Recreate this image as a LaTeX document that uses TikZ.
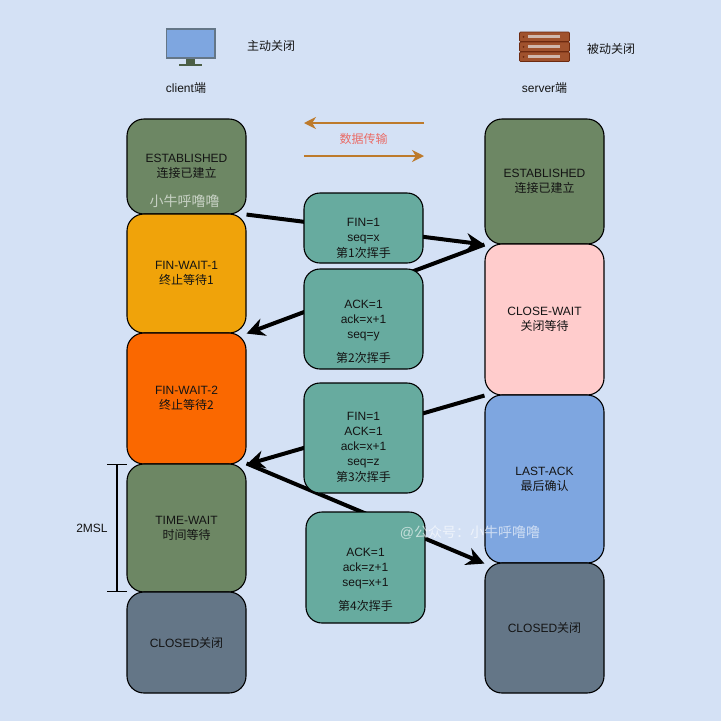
\documentclass[tikz,border=0pt]{standalone}
\usepackage{fontspec}
\setmainfont{Liberation Sans}
\newfontfamily\cjk{Noto Sans CJK SC}
\usetikzlibrary{arrows.meta,calc}
\newcommand{\zh}[1]{{\cjk #1}}
\newcommand{\topgap}[1]{\rule{0pt}{#1}}
\definecolor{bgblue}{HTML}{D4E1F5}
\definecolor{sagegreen}{HTML}{6D8764}
\definecolor{amberfill}{HTML}{F0A30A}
\definecolor{orangefill}{HTML}{FA6800}
\definecolor{slatefill}{HTML}{647687}
\definecolor{bluefill}{HTML}{7EA6E0}
\definecolor{pinkfill}{HTML}{FFCCCC}
\definecolor{tealfill}{HTML}{67AB9F}
\definecolor{dataline}{HTML}{BD7A2B}
\definecolor{datatext}{HTML}{EA6B66}
\definecolor{rackfill}{HTML}{A0522D}
\definecolor{rackline}{HTML}{6D2A10}
\tikzset{
  statebox/.style={draw=black,line width=1.1pt,rounded corners=17pt,minimum width=119pt,inner sep=0pt,align=center,text=black!92},
  shakebox/.style={draw=black,line width=1.1pt,fill=tealfill,rounded corners=16pt,minimum width=119pt,inner sep=0pt,align=center,text=black!92},
  bigarrow/.style={line width=4pt,-{Stealth[length=18pt,width=18pt]}},
  dataarrow/.style={dataline,line width=1.8pt,-{Stealth[length=12pt,width=12pt]}},
  plainlabel/.style={text=black!92,align=center,inner sep=0pt},
  watermark/.style={text=white,opacity=0.62,inner sep=0pt}
}
\begin{document}
\begin{tikzpicture}[x=1pt,y=-1pt, every node/.style={font=\fontsize{12pt}{15pt}\selectfont}]
\useasboundingbox (0,0) rectangle (721,721);
\fill[bgblue] (0,0) rectangle (721,721);
\fill[bluefill,draw=slatefill,line width=1.2pt] (166.5,29) rectangle (215,58);
\fill[sagegreen!70!black] (186,58.5) rectangle (195,64);
\fill[sagegreen!70!black] (179,64) rectangle (202,66);
\foreach \j in {32,42,52}{%
  \fill[rackfill,draw=rackline,line width=0.7pt,rounded corners=1pt] (519.5,\j) rectangle (569.5,\j+9.5);
  \fill[rackfill!35!white!85!gray] (528,\j+3.3) rectangle (560,\j+6.3);
  \fill[rackline] (523.5,\j+4.8) circle (1pt);}
\node[plainlabel] (mainclose) at (271,46) {\zh{主动关闭}};
\node[plainlabel] (clientlabel) at (186,88) {client\zh{端}};
\node[plainlabel] (serverlabel) at (544.5,88) {server\zh{端}};
\node[plainlabel] (passclose) at (611,49) {\zh{被动关闭}};
\node[statebox,fill=sagegreen,minimum height=95pt] (cestab) at (186.5,166.5) {ESTABLISHED\\\zh{连接已建立}};
\node[statebox,fill=amberfill,minimum height=119pt] (cwaita) at (186.5,273.5) {FIN-WAIT-1\\\zh{终止等待1}};
\node[statebox,fill=orangefill,minimum height=131pt] (cwaitb) at (186.5,398.5) {FIN-WAIT-2\\\zh{终止等待2}};
\node[statebox,fill=sagegreen,minimum height=128pt] (ctime) at (186.5,528) {TIME-WAIT\\\zh{时间等待}};
\node[statebox,fill=slatefill,minimum height=101pt] (cclosed) at (186.5,642.5) {CLOSED\zh{关闭}};
\node[statebox,fill=sagegreen,minimum height=125pt] (sestab) at (544.5,181.5) {ESTABLISHED\\\zh{连接已建立}};
\node[statebox,fill=pinkfill,minimum height=151pt] (swait) at (544.5,319.5) {CLOSE-WAIT\\\zh{关闭等待}};
\node[statebox,fill=bluefill,minimum height=168pt] (slast) at (544.5,479) {LAST-ACK\\\zh{最后确认}};
\node[statebox,fill=slatefill,minimum height=130pt] (sclosed) at (544.5,628) {CLOSED\zh{关闭}};
\coordinate (dataR) at (424,123);
\coordinate (dataL) at (304,123);
\coordinate (dataS) at (304,156);
\coordinate (dataE) at (424,156);
\draw[dataarrow] (dataR) -- (dataL);
\draw[dataarrow] (dataS) -- (dataE);
\node[text=datatext,inner sep=0pt] (datalabel) at (363.5,139) {\zh{数据传输}};
\coordinate (mslT) at (117,464);
\coordinate (mslB) at (117,592);
\draw[black,line width=1.1pt,{Bar[width=20pt]}-{Bar[width=20pt]}] (mslT) -- (mslB);
\node[plainlabel] (msl) at (92,528) {2MSL};
\draw[bigarrow] (cestab.south east) -- (sestab.south west);
\draw[bigarrow] (sestab.south west) -- (cwaita.south east);
\draw[bigarrow] (swait.south west) -- (cwaitb.south east);
\draw[bigarrow] (ctime.north east) -- (slast.south west);
\node[shakebox,minimum height=70pt] (finone) at (363.5,228) {\topgap{29pt}FIN=1\\seq=x\\[1pt]\zh{第1次挥手}};
\node[shakebox,minimum height=100pt] (ackone) at (363.5,319) {\topgap{33pt}ACK=1\\ack=x+1\\seq=y\\[9pt]\zh{第2次挥手}};
\node[shakebox,minimum height=110pt] (finack) at (363.5,438) {\topgap{26pt}FIN=1\\ACK=1\\ack=x+1\\seq=z\\[1pt]\zh{第3次挥手}};
\node[shakebox,minimum height=111pt] (acktwo) at (365.5,567.5) {\topgap{33pt}ACK=1\\ack=z+1\\seq=x+1\\[9pt]\zh{第4次挥手}};
\node[watermark,font=\fontsize{14pt}{15pt}\selectfont] (markleft) at (184.5,201.5) {\zh{小牛呼噜噜}};
\node[watermark,font=\fontsize{14pt}{15pt}\selectfont] (markright) at (470,533) {@\zh{公众号：小牛呼噜噜}};
\end{tikzpicture}
\end{document}
